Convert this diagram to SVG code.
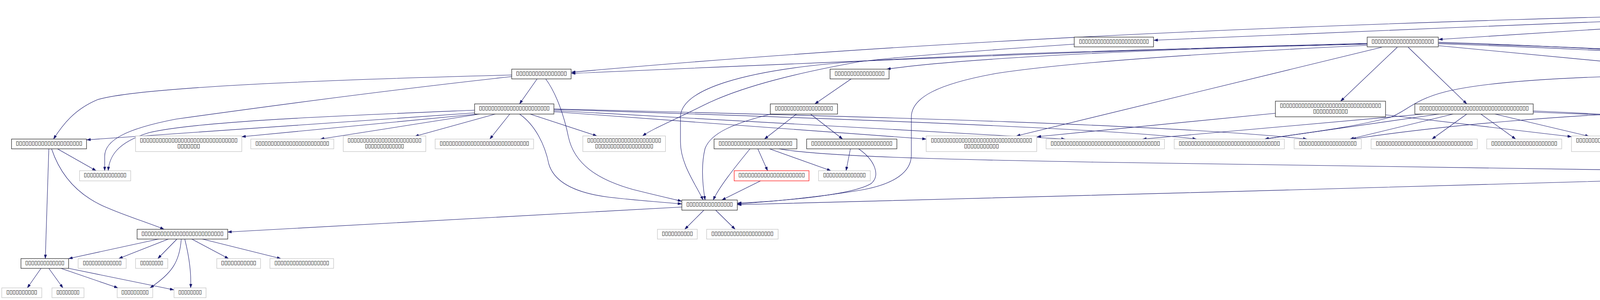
<svg xmlns="http://www.w3.org/2000/svg" width="5513" height="768" viewBox="0 0 5513 768">
<defs>
<marker id="a" viewBox="0 0 10 7" refX="10" refY="3.5" markerWidth="10" markerHeight="7" markerUnits="userSpaceOnUse" orient="auto"><path d="M0,0 L10,3.5 L0,7 z" fill="#191970" stroke="#191970" stroke-width="0.5"/></marker>
</defs>
<style>
.e{fill:none;stroke:#191970;stroke-width:1.1;marker-end:url(#a)}
.nb{fill:#fff;stroke:#2a2a2a;stroke-width:1.3}
.ng{fill:#fff;stroke:#c0c0c0;stroke-width:1.2}
.nr{fill:#fff;stroke:#ff0000;stroke-width:1.2}
.root{fill:#bfbfbf;stroke:#404040;stroke-width:1.3}
.t{font-family:"DejaVu Sans","Liberation Sans",sans-serif;font-size:14px;fill:#000}
</style>
<rect width="5513" height="768" fill="#fff"/>
<g id="edges">
<path class="e" d="M4684,28 C3610,55 2536,88 1463,185"/>
<path class="e" d="M4684,32 C4200,50 3500,80 2954,103"/>
<path class="e" d="M4684,37 L3683,101"/>
<path class="e" d="M4937,46 L5205,95"/>
<path class="e" d="M4845,46 L4987,259"/>
<path class="e" d="M4826,46 C4812,160 4812,270 4850,315 C4870,335 4905,348 4937,356"/>
<path class="e" d="M4976,36 C5200,65 5370,80 5420,110 C5460,140 5455,200 5453,250 C5452,320 5448,400 5445,437"/>
<path class="e" d="M3500,111 C2900,126 2100,160 1463,188"/>
<path class="e" d="M3500,112 C3000,125 2500,145 2270,177"/>
<path class="e" d="M3500,113 C3000,125 2500,138 2200,157 C1900,178 1742,230 1742,300 L1742,363 C1742,420 1780,470 1800,512"/>
<path class="e" d="M3500,116 C3000,140 2700,165 2550,188 C2400,215 2333,250 2333,300 L2333,397 C2333,440 2290,470 2213,485 C2100,505 1950,518 1888,522"/>
<path class="e" d="M3537,121 L2602,348"/>
<path class="e" d="M3577,121 L3432,259"/>
<path class="e" d="M3605,121 L3755,266"/>
<path class="e" d="M3683,117 L4294,175"/>
<path class="e" d="M3683,110 C4200,125 4650,150 4760,166 C4870,185 4930,225 4969,259"/>
<path class="e" d="M3683,108 C4000,118 4400,140 4580,166 C4640,180 4680,220 4720,250 C4780,300 4870,330 4932,356"/>
<path class="e" d="M3683,112 C4200,130 4700,160 4960,195 C5100,225 5200,260 5260,300 C5330,350 5390,400 5424,437"/>
<path class="e" d="M2750,113 C2500,130 2300,145 2200,158 C2050,185 1900,220 1800,270 C1720,310 1670,330 1645,348"/>
<path class="e" d="M1310,192 C800,205 350,225 250,255 C190,280 160,320 137,356"/>
<path class="e" d="M1310,196 C1000,230 700,270 450,305 C320,330 268,360 268,400 L268,437"/>
<path class="e" d="M1375,202 L1330,266"/>
<path class="e" d="M1397,202 C1425,240 1445,300 1455,350 C1470,420 1530,460 1620,485 C1680,500 1715,508 1745,515"/>
<path class="e" d="M1215,289 L222,358"/>
<path class="e" d="M1215,282 C900,295 500,310 380,340 C300,365 280,400 277,437"/>
<path class="e" d="M1223,292 L619,350"/>
<path class="e" d="M1228,292 L820,356"/>
<path class="e" d="M1268,292 L1062,349"/>
<path class="e" d="M1305,292 L1254,356"/>
<path class="e" d="M1330,292 C1370,320 1395,370 1405,420 C1420,470 1480,495 1560,505 C1640,514 1700,518 1745,522"/>
<path class="e" d="M1357,292 L1528,348"/>
<path class="e" d="M1418,286 L2371,356"/>
<path class="e" d="M1418,283 L2727,356"/>
<path class="e" d="M1418,280 C2200,305 2850,330 3063,356"/>
<path class="e" d="M1418,279 C2300,300 3000,320 3346,356"/>
<path class="e" d="M147,381 L246,437"/>
<path class="e" d="M125,381 L116,662"/>
<path class="e" d="M132,381 C155,450 200,500 270,530 C330,556 380,570 420,587"/>
<path class="e" d="M406,612 L176,662"/>
<path class="e" d="M431,612 L304,662"/>
<path class="e" d="M453,612 L404,662"/>
<path class="e" d="M464,612 C460,670 440,700 384,737"/>
<path class="e" d="M473,612 C485,660 490,700 488,737"/>
<path class="e" d="M491,612 L585,662"/>
<path class="e" d="M518,612 L719,662"/>
<path class="e" d="M105,687 L70,737"/>
<path class="e" d="M125,687 L161,737"/>
<path class="e" d="M156,687 L302,737"/>
<path class="e" d="M176,687 L445,742"/>
<path class="e" d="M1802,538 L1753,587"/>
<path class="e" d="M1832,538 L1882,587"/>
<path class="e" d="M1745,530 L583,594"/>
<path class="e" d="M2179,202 L2086,266"/>
<path class="e" d="M1974,292 C1880,315 1820,340 1805,380 C1795,420 1798,470 1805,512"/>
<path class="e" d="M2039,292 L1957,356"/>
<path class="e" d="M2075,292 L2157,356"/>
<path class="e" d="M1920,381 C1880,430 1840,480 1826,512"/>
<path class="e" d="M1940,381 L1965,437"/>
<path class="e" d="M1970,381 L2127,437"/>
<path class="e" d="M1994,381 C2100,400 2400,408 2800,415 C3500,428 4500,442 5376,450"/>
<path class="e" d="M2177,381 L2166,437"/>
<path class="e" d="M2198,381 C2240,410 2255,450 2230,470 C2180,500 2000,515 1888,520"/>
<path class="e" d="M1947,463 L1848,512"/>
<path class="e" d="M3265,290 L2655,350"/>
<path class="e" d="M3547,294 L4023,350"/>
<path class="e" d="M3644,292 L2925,356"/>
<path class="e" d="M3684,292 L3238,356"/>
<path class="e" d="M3720,292 L3456,356"/>
<path class="e" d="M3755,292 L3666,356"/>
<path class="e" d="M3791,292 L3880,356"/>
<path class="e" d="M3827,292 L4068,349"/>
<path class="e" d="M3925,284 C4300,300 4700,330 4922,356"/>
<path class="e" d="M3925,287 C4400,305 4900,335 5129,356"/>
<path class="e" d="M4294,192 C4000,196 3800,210 3700,235 C3620,255 3600,285 3560,300 C3450,330 3300,345 3238,356"/>
<path class="e" d="M4391,210 C4340,250 4250,300 4182,348"/>
<path class="e" d="M4435,210 L4435,259"/>
<path class="e" d="M4474,210 C4550,260 4620,290 4690,305 C4800,330 4880,345 4935,356"/>
<path class="e" d="M4507,210 C4650,270 4900,310 5120,356"/>
<path class="e" d="M4564,210 L4867,259"/>
<path class="e" d="M4314,283 C4000,295 3700,320 3461,356"/>
<path class="e" d="M4368,299 L4217,348"/>
<path class="e" d="M4435,299 L4435,356"/>
<path class="e" d="M4503,299 L4686,356"/>
<path class="e" d="M4556,295 L4920,356"/>
<path class="e" d="M5004,299 L4991,356"/>
<path class="e" d="M5052,299 L5171,356"/>
<path class="e" d="M5150,289 C5250,300 5330,330 5330,360 C5330,380 5325,390 5310,395 C5200,430 4700,450 4200,461 C3500,480 2500,510 1888,524"/>
<path class="e" d="M5255,120 C5215,170 5190,230 5192,280 L5195,356"/>
<path class="e" d="M5283,120 L5310,177"/>
</g>
<g id="n0"><rect class="root" x="4684" y="6" width="292" height="40"/><text class="t" x="4694" y="20.5" textLength="199" lengthAdjust="spacingAndGlyphs">▯▯▯▯▯▯▯▯▯▯▯▯▯▯▯▯▯▯▯▯▯▯▯▯▯</text><text class="t" x="4694" y="35" textLength="269" lengthAdjust="spacingAndGlyphs">▯▯▯▯▯▯▯▯▯▯▯▯▯▯▯▯▯▯▯▯▯▯▯▯▯▯▯▯▯▯▯▯▯▯</text></g>
<g id="n1"><rect class="nb" x="1310" y="177" width="152" height="25"/><text class="t" x="1321" y="192" textLength="130" lengthAdjust="spacingAndGlyphs">▯▯▯▯▯▯▯▯▯▯▯▯▯▯▯▯</text></g>
<g id="n2"><rect class="nb" x="1215" y="266" width="203" height="26"/><text class="t" x="1226" y="281" textLength="181" lengthAdjust="spacingAndGlyphs">▯▯▯▯▯▯▯▯▯▯▯▯▯▯▯▯▯▯▯▯▯▯▯</text></g>
<g id="n3"><rect class="nb" x="29.5" y="356" width="192" height="25"/><text class="t" x="40.5" y="371" textLength="170" lengthAdjust="spacingAndGlyphs">▯▯▯▯▯▯▯▯▯▯▯▯▯▯▯▯▯▯▯▯▯</text></g>
<g id="n4"><rect class="ng" x="203.6" y="437" width="131" height="26"/><text class="t" x="214.6" y="452" textLength="109" lengthAdjust="spacingAndGlyphs">▯▯▯▯▯▯▯▯▯▯▯▯▯▯</text></g>
<g id="n5"><rect class="nb" x="351" y="587" width="232" height="25"/><text class="t" x="362" y="602" textLength="210" lengthAdjust="spacingAndGlyphs">▯▯▯▯▯▯▯▯▯▯▯▯▯▯▯▯▯▯▯▯▯▯▯▯▯▯</text></g>
<g id="n6"><rect class="nb" x="53.6" y="662" width="122" height="25"/><text class="t" x="64.6" y="677" textLength="100" lengthAdjust="spacingAndGlyphs">▯▯▯▯▯▯▯▯▯▯▯▯▯</text></g>
<g id="n7"><rect class="ng" x="200" y="662" width="123" height="25"/><text class="t" x="212" y="677" textLength="99" lengthAdjust="spacingAndGlyphs">▯▯▯▯▯▯▯▯▯▯▯▯▯</text></g>
<g id="n8"><rect class="ng" x="347" y="662" width="82.5" height="25"/><text class="t" x="358.75" y="677" textLength="59" lengthAdjust="spacingAndGlyphs">▯▯▯▯▯▯▯▯</text></g>
<g id="n9"><rect class="ng" x="555" y="662" width="112" height="25"/><text class="t" x="566" y="677" textLength="90" lengthAdjust="spacingAndGlyphs">▯▯▯▯▯▯▯▯▯▯▯</text></g>
<g id="n10"><rect class="ng" x="691" y="662" width="163" height="25"/><text class="t" x="702.5" y="677" textLength="140" lengthAdjust="spacingAndGlyphs">▯▯▯▯▯▯▯▯▯▯▯▯▯▯▯▯▯▯</text></g>
<g id="n11"><rect class="ng" x="4.5" y="737" width="102.5" height="25"/><text class="t" x="16.25" y="752" textLength="79" lengthAdjust="spacingAndGlyphs">▯▯▯▯▯▯▯▯▯▯</text></g>
<g id="n12"><rect class="ng" x="133" y="737" width="82" height="25"/><text class="t" x="144.5" y="752" textLength="59" lengthAdjust="spacingAndGlyphs">▯▯▯▯▯▯▯▯</text></g>
<g id="n13"><rect class="ng" x="300" y="737" width="91" height="25"/><text class="t" x="310.5" y="752" textLength="70" lengthAdjust="spacingAndGlyphs">▯▯▯▯▯▯▯▯▯</text></g>
<g id="n14"><rect class="ng" x="445.5" y="737" width="82" height="25"/><text class="t" x="456.5" y="752" textLength="60" lengthAdjust="spacingAndGlyphs">▯▯▯▯▯▯▯▯</text></g>
<g id="n15"><rect class="ng" x="347" y="348" width="272" height="40"/><text class="t" x="358" y="363" textLength="250" lengthAdjust="spacingAndGlyphs">▯▯▯▯▯▯▯▯▯▯▯▯▯▯▯▯▯▯▯▯▯▯▯▯▯▯▯▯▯▯▯</text><text class="t" x="454" y="378" textLength="58" lengthAdjust="spacingAndGlyphs">▯▯▯▯▯▯▯</text></g>
<g id="n16"><rect class="ng" x="642" y="356" width="212.5" height="25"/><text class="t" x="653.75" y="371" textLength="189" lengthAdjust="spacingAndGlyphs">▯▯▯▯▯▯▯▯▯▯▯▯▯▯▯▯▯▯▯▯▯▯▯▯</text></g>
<g id="n17"><rect class="ng" x="878.6" y="348" width="211.4" height="40"/><text class="t" x="889.8" y="363" textLength="189" lengthAdjust="spacingAndGlyphs">▯▯▯▯▯▯▯▯▯▯▯▯▯▯▯▯▯▯▯▯▯▯▯▯</text><text class="t" x="934.3" y="378" textLength="100" lengthAdjust="spacingAndGlyphs">▯▯▯▯▯▯▯▯▯▯▯▯▯</text></g>
<g id="n18"><rect class="ng" x="1114" y="356" width="252" height="25"/><text class="t" x="1125.5" y="371" textLength="229" lengthAdjust="spacingAndGlyphs">▯▯▯▯▯▯▯▯▯▯▯▯▯▯▯▯▯▯▯▯▯▯▯▯▯▯▯▯▯</text></g>
<g id="n19"><rect class="nb" x="2125" y="177" width="151" height="25"/><text class="t" x="2136.5" y="192" textLength="128" lengthAdjust="spacingAndGlyphs">▯▯▯▯▯▯▯▯▯▯▯▯▯▯▯▯</text></g>
<g id="n20"><rect class="nb" x="2750" y="95" width="203" height="25"/><text class="t" x="2762" y="110" textLength="179" lengthAdjust="spacingAndGlyphs">▯▯▯▯▯▯▯▯▯▯▯▯▯▯▯▯▯▯▯▯▯▯▯</text></g>
<g id="n21"><rect class="nb" x="1972" y="266" width="172" height="26"/><text class="t" x="1983.5" y="281" textLength="149" lengthAdjust="spacingAndGlyphs">▯▯▯▯▯▯▯▯▯▯▯▯▯▯▯▯▯▯▯</text></g>
<g id="n22"><rect class="nb" x="1828" y="356" width="212" height="25"/><text class="t" x="1839.5" y="371" textLength="189" lengthAdjust="spacingAndGlyphs">▯▯▯▯▯▯▯▯▯▯▯▯▯▯▯▯▯▯▯▯▯▯▯▯</text></g>
<g id="n23"><rect class="nb" x="2065" y="356" width="231" height="25"/><text class="t" x="2076.5" y="371" textLength="208" lengthAdjust="spacingAndGlyphs">▯▯▯▯▯▯▯▯▯▯▯▯▯▯▯▯▯▯▯▯▯▯▯▯▯▯</text></g>
<g id="n24"><rect class="ng" x="1492" y="348" width="211.6" height="40"/><text class="t" x="1503.3" y="363" textLength="189" lengthAdjust="spacingAndGlyphs">▯▯▯▯▯▯▯▯▯▯▯▯▯▯▯▯▯▯▯▯▯▯▯▯</text><text class="t" x="1523.3" y="378" textLength="149" lengthAdjust="spacingAndGlyphs">▯▯▯▯▯▯▯▯▯▯▯▯▯▯▯▯▯▯▯</text></g>
<g id="n25"><rect class="ng" x="2371" y="348" width="283" height="40"/><text class="t" x="2383" y="363" textLength="259" lengthAdjust="spacingAndGlyphs">▯▯▯▯▯▯▯▯▯▯▯▯▯▯▯▯▯▯▯▯▯▯▯▯▯▯▯▯▯▯▯▯▯</text><text class="t" x="2468" y="378" textLength="89" lengthAdjust="spacingAndGlyphs">▯▯▯▯▯▯▯▯▯▯▯</text></g>
<g id="n26"><rect class="ng" x="2678" y="356" width="303" height="25"/><text class="t" x="2689.5" y="371" textLength="280" lengthAdjust="spacingAndGlyphs">▯▯▯▯▯▯▯▯▯▯▯▯▯▯▯▯▯▯▯▯▯▯▯▯▯▯▯▯▯▯▯▯▯▯▯</text></g>
<g id="n27"><rect class="nr" x="1879.5" y="437" width="191.5" height="26"/><text class="t" x="1890.25" y="452" textLength="170" lengthAdjust="spacingAndGlyphs">▯▯▯▯▯▯▯▯▯▯▯▯▯▯▯▯▯▯▯▯▯</text></g>
<g id="n28"><rect class="ng" x="2095.5" y="437" width="132.5" height="26"/><text class="t" x="2107.25" y="452" textLength="109" lengthAdjust="spacingAndGlyphs">▯▯▯▯▯▯▯▯▯▯▯▯▯▯</text></g>
<g id="n29"><rect class="nb" x="1745.5" y="512" width="142" height="26"/><text class="t" x="1757" y="527" textLength="119" lengthAdjust="spacingAndGlyphs">▯▯▯▯▯▯▯▯▯▯▯▯▯▯▯</text></g>
<g id="n30"><rect class="ng" x="1683" y="587" width="102" height="25"/><text class="t" x="1694.25" y="602" textLength="79.5" lengthAdjust="spacingAndGlyphs">▯▯▯▯▯▯▯▯▯▯</text></g>
<g id="n31"><rect class="ng" x="1809" y="587" width="183" height="25"/><text class="t" x="1821" y="602" textLength="159" lengthAdjust="spacingAndGlyphs">▯▯▯▯▯▯▯▯▯▯▯▯▯▯▯▯▯▯▯▯</text></g>
<g id="n32"><rect class="nb" x="3500" y="95" width="182" height="25"/><text class="t" x="3511" y="110" textLength="160" lengthAdjust="spacingAndGlyphs">▯▯▯▯▯▯▯▯▯▯▯▯▯▯▯▯▯▯▯▯</text></g>
<g id="n33"><rect class="nb" x="3265" y="259" width="282" height="40"/><text class="t" x="3276.5" y="274" textLength="259" lengthAdjust="spacingAndGlyphs">▯▯▯▯▯▯▯▯▯▯▯▯▯▯▯▯▯▯▯▯▯▯▯▯▯▯▯▯▯▯▯▯▯</text><text class="t" x="3361.5" y="289" textLength="89" lengthAdjust="spacingAndGlyphs">▯▯▯▯▯▯▯▯▯▯▯</text></g>
<g id="n34"><rect class="nb" x="3622" y="266" width="303" height="26"/><text class="t" x="3633.5" y="281" textLength="280" lengthAdjust="spacingAndGlyphs">▯▯▯▯▯▯▯▯▯▯▯▯▯▯▯▯▯▯▯▯▯▯▯▯▯▯▯▯▯▯▯▯▯▯▯</text></g>
<g id="n35"><rect class="ng" x="3006" y="356" width="282" height="25"/><text class="t" x="3017.5" y="371" textLength="259" lengthAdjust="spacingAndGlyphs">▯▯▯▯▯▯▯▯▯▯▯▯▯▯▯▯▯▯▯▯▯▯▯▯▯▯▯▯▯▯▯▯▯</text></g>
<g id="n36"><rect class="ng" x="3313" y="356" width="172" height="25"/><text class="t" x="3325" y="371" textLength="148" lengthAdjust="spacingAndGlyphs">▯▯▯▯▯▯▯▯▯▯▯▯▯▯▯▯▯▯▯</text></g>
<g id="n37"><rect class="ng" x="3510" y="356" width="272" height="25"/><text class="t" x="3522" y="371" textLength="248" lengthAdjust="spacingAndGlyphs">▯▯▯▯▯▯▯▯▯▯▯▯▯▯▯▯▯▯▯▯▯▯▯▯▯▯▯▯▯▯▯</text></g>
<g id="n38"><rect class="ng" x="3806" y="356" width="192" height="25"/><text class="t" x="3817.5" y="371" textLength="169" lengthAdjust="spacingAndGlyphs">▯▯▯▯▯▯▯▯▯▯▯▯▯▯▯▯▯▯▯▯▯</text></g>
<g id="n39"><rect class="ng" x="4023" y="348" width="262" height="40"/><text class="t" x="4034.5" y="363" textLength="239" lengthAdjust="spacingAndGlyphs">▯▯▯▯▯▯▯▯▯▯▯▯▯▯▯▯▯▯▯▯▯▯▯▯▯▯▯▯▯▯</text><text class="t" x="4119" y="378" textLength="70" lengthAdjust="spacingAndGlyphs">▯▯▯▯▯▯▯▯▯</text></g>
<g id="n40"><rect class="nb" x="5160.5" y="95" width="232" height="25"/><text class="t" x="5172" y="110" textLength="209" lengthAdjust="spacingAndGlyphs">▯▯▯▯▯▯▯▯▯▯▯▯▯▯▯▯▯▯▯▯▯▯▯▯▯▯</text></g>
<g id="n41"><rect class="ng" x="5225" y="177" width="191" height="25"/><text class="t" x="5236.5" y="192" textLength="168" lengthAdjust="spacingAndGlyphs">▯▯▯▯▯▯▯▯▯▯▯▯▯▯▯▯▯▯▯▯▯</text></g>
<g id="n42"><rect class="nb" x="4294" y="170" width="282" height="40"/><text class="t" x="4305" y="185" textLength="260" lengthAdjust="spacingAndGlyphs">▯▯▯▯▯▯▯▯▯▯▯▯▯▯▯▯▯▯▯▯▯▯▯▯▯▯▯▯▯▯▯▯▯</text><text class="t" x="4385.5" y="200" textLength="99" lengthAdjust="spacingAndGlyphs">▯▯▯▯▯▯▯▯▯▯▯▯▯</text></g>
<g id="n43"><rect class="nb" x="4314" y="259" width="242" height="40"/><text class="t" x="4325.5" y="274" textLength="219" lengthAdjust="spacingAndGlyphs">▯▯▯▯▯▯▯▯▯▯▯▯▯▯▯▯▯▯▯▯▯▯▯▯▯▯▯▯</text><text class="t" x="4390.5" y="289" textLength="89" lengthAdjust="spacingAndGlyphs">▯▯▯▯▯▯▯▯▯▯▯</text></g>
<g id="n44"><rect class="nb" x="4867" y="259" width="283" height="40"/><text class="t" x="4878.5" y="274" textLength="260" lengthAdjust="spacingAndGlyphs">▯▯▯▯▯▯▯▯▯▯▯▯▯▯▯▯▯▯▯▯▯▯▯▯▯▯▯▯▯▯▯▯▯</text><text class="t" x="4934" y="289" textLength="149" lengthAdjust="spacingAndGlyphs">▯▯▯▯▯▯▯▯▯▯▯▯▯▯▯▯▯▯▯</text></g>
<g id="n45"><rect class="ng" x="4309" y="356" width="252" height="25"/><text class="t" x="4320.5" y="371" textLength="229" lengthAdjust="spacingAndGlyphs">▯▯▯▯▯▯▯▯▯▯▯▯▯▯▯▯▯▯▯▯▯▯▯▯▯▯▯▯▯</text></g>
<g id="n46"><rect class="ng" x="4585" y="356" width="292" height="25"/><text class="t" x="4596.5" y="371" textLength="269" lengthAdjust="spacingAndGlyphs">▯▯▯▯▯▯▯▯▯▯▯▯▯▯▯▯▯▯▯▯▯▯▯▯▯▯▯▯▯▯▯▯▯▯</text></g>
<g id="n47"><rect class="ng" x="4901" y="356" width="172" height="25"/><text class="t" x="4912" y="371" textLength="150" lengthAdjust="spacingAndGlyphs">▯▯▯▯▯▯▯▯▯▯▯▯▯▯▯▯▯▯▯</text></g>
<g id="n48"><rect class="ng" x="5098" y="356" width="202" height="25"/><text class="t" x="5109" y="371" textLength="180" lengthAdjust="spacingAndGlyphs">▯▯▯▯▯▯▯▯▯▯▯▯▯▯▯▯▯▯▯▯▯▯▯</text></g>
<g id="n49"><rect class="ng" x="5376" y="437" width="132" height="26"/><text class="t" x="5387.5" y="452" textLength="109" lengthAdjust="spacingAndGlyphs">▯▯▯▯▯▯▯▯▯▯▯▯▯▯</text></g>
</svg>
